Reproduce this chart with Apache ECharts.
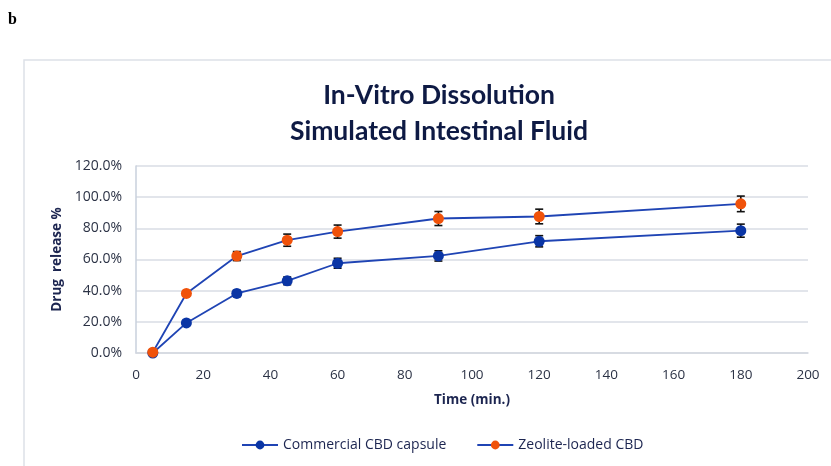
<!DOCTYPE html>
<html><head><meta charset="utf-8">
<script src="https://cdn.jsdelivr.net/npm/echarts@6/dist/echarts.min.js"></script>
<style>html,body{margin:0;padding:0;background:#fff}#c{width:831px;height:466px}</style>
</head><body><div id="c"></div>
<script>
var times = [5, 15, 30, 45, 60, 90, 120, 180];
var commercial = [0, 19.3, 38.2, 46.3, 57.6, 62.3, 71.7, 78.5];
var commercialErr = [0.3, 1.5, 2.0, 2.5, 3.2, 3.3, 3.6, 4.2];
var zeolite = [0.5, 38.2, 62.2, 72.4, 77.9, 86.3, 87.6, 95.7];
var zeoliteErr = [0.3, 1.5, 2.9, 3.9, 4.2, 4.5, 4.7, 5.0];
var yTicks = [0, 20, 40, 60, 80, 100, 120];

function pairs(xs, ys) { return xs.map(function (x, i) { return [x, ys[i]]; }); }
function errData(xs, ys, es) { return xs.map(function (x, i) { return [x, ys[i] - es[i], ys[i] + es[i]]; }); }

function errRender(params, api) {
  var x = api.value(0);
  var lo = api.coord([x, api.value(1)]);
  var hi = api.coord([x, api.value(2)]);
  var w = 4;
  var st = { stroke: '#111', lineWidth: 1.6 };
  return { type: 'group', children: [
    { type: 'line', shape: { x1: lo[0], y1: lo[1], x2: hi[0], y2: hi[1] }, style: st },
    { type: 'line', shape: { x1: lo[0] - w, y1: lo[1], x2: lo[0] + w, y2: lo[1] }, style: st },
    { type: 'line', shape: { x1: hi[0] - w, y1: hi[1], x2: hi[0] + w, y2: hi[1] }, style: st }
  ]};
}

var chart = echarts.init(document.getElementById('c'), null, { renderer: 'canvas' });
var tfont = 'Lato, "Open Sans", sans-serif';
var font = '"Open Sans", sans-serif';
chart.setOption({
  animation: false,
  backgroundColor: '#fff',
  title: {
    text: 'In-Vitro Dissolution\nSimulated Intestinal Fluid',
    left: 434, top: 72, textAlign: 'center',
    textStyle: { fontFamily: tfont, fontWeight: 'bold', fontSize: 26.5, color: '#0e1a44', lineHeight: 36 }
  },
  graphic: [
    { type: 'rect', shape: { x: 24, y: 60, width: 830, height: 420 }, style: { fill: 'none', stroke: '#dde1e8', lineWidth: 1.5 }, z: -1 },
    { type: 'text', left: 8, top: 12, style: { text: 'b', font: 'bold 16px "Liberation Serif", serif', fill: '#000' } }
  ],
  legend: {
    bottom: 9, left: 236, itemGap: 30, itemWidth: 36, itemHeight: 11,
    textStyle: { fontFamily: font, fontSize: 14, color: '#1c2550' },
    data: ['Commercial CBD capsule', 'Zeolite-loaded CBD']
  },
  grid: { left: 136, right: 23, top: 166, bottom: 113 },
  xAxis: {
    type: 'value', min: 0, max: 200, interval: 20,
    name: 'Time (min.)', nameLocation: 'middle', nameGap: 40,
    nameTextStyle: { fontFamily: font, fontWeight: 'bold', fontSize: 13.5, color: '#1c2550' },
    axisLine: { show: true, lineStyle: { color: '#d4d8e0', width: 1.5 } },
    axisTick: { show: false },
    axisLabel: { fontFamily: font, fontSize: 13.5, color: '#2b3245', margin: 15 },
    splitLine: { show: false }
  },
  yAxis: {
    type: 'value', min: 0, max: 120, interval: 20,
    name: 'Drug  release %', nameLocation: 'middle', nameGap: 72, nameRotate: 90,
    nameTextStyle: { fontFamily: font, fontWeight: 'bold', fontSize: 13.5, color: '#1c2550' },
    axisLine: { show: true, lineStyle: { color: '#c9d0dc', width: 1.5 } },
    axisTick: { show: false },
    axisLabel: { fontFamily: font, fontSize: 14, color: '#2b3245', margin: 14,
      formatter: function (v) { return yTicks.indexOf(v) >= 0 ? v.toFixed(1) + '%' : ''; } },
    splitLine: { lineStyle: { color: '#d9dde4', width: 1.5 } }
  },
  series: [
    { name: 'Commercial CBD capsule', type: 'line', data: pairs(times, commercial),
      symbol: 'circle', symbolSize: 11, z: 3,
      lineStyle: { color: '#1f44b4', width: 1.8 }, itemStyle: { color: '#0a35a5' } },
    { name: 'Zeolite-loaded CBD', type: 'line', data: pairs(times, zeolite),
      symbol: 'circle', symbolSize: 11, z: 3,
      lineStyle: { color: '#1f44b4', width: 1.8 }, itemStyle: { color: '#f0520a' } },
    { type: 'custom', data: errData(times, commercial, commercialErr), renderItem: errRender, z: 2, silent: true },
    { type: 'custom', data: errData(times, zeolite, zeoliteErr), renderItem: errRender, z: 2, silent: true }
  ]
});
</script></body></html>
